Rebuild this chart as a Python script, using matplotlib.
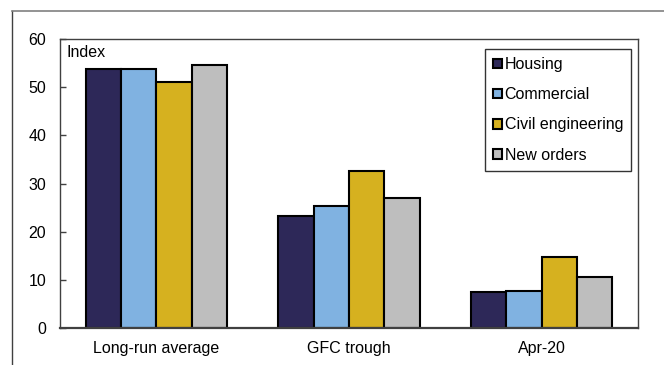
import matplotlib
matplotlib.use("Agg")
import matplotlib.pyplot as plt
import numpy as np
from matplotlib.lines import Line2D

categories = ["Long-run average", "GFC trough", "Apr-20"]
series_names = ["Housing", "Commercial", "Civil engineering", "New orders"]
housing = [53.7, 23.2, 7.4]
commercial = [53.8, 25.3, 7.75]
civil = [51.0, 32.5, 14.7]
new_orders = [54.7, 27.0, 10.5]
yticks = [0, 10, 20, 30, 40, 50, 60]

colors = ["#2D2858", "#80B2E1", "#D6B11F", "#BEBEBE"]

plt.rcParams['font.family'] = ['Liberation Sans', 'DejaVu Sans']
fs = 11.5
fig = plt.figure(figsize=(6.64, 3.65), dpi=100)
ax = fig.add_axes([60/664, 1-328/365, 578/664, 289/365])

x = np.arange(len(categories))
w = 0.183
data = [housing, commercial, civil, new_orders]
for i, (vals, name, c) in enumerate(zip(data, series_names, colors)):
    ax.bar(x + (i - 1.5) * w, vals, width=w, color=c, edgecolor="black",
           linewidth=1.5, label=name)

ax.set_xlim(-0.5, 2.5)
ax.set_ylim(0, 60)
ax.set_yticks(yticks)
ax.set_yticklabels([str(t) for t in yticks], fontsize=fs)
ax.set_xticks(x)
ax.set_xticklabels(categories, fontsize=fs)
ax.tick_params(axis='y', direction='in', length=4, width=1, color='#404040', pad=10)
ax.tick_params(axis='x', length=0, pad=9)
for s in ['left', 'top', 'right']:
    ax.spines[s].set_color('#404040')
    ax.spines[s].set_linewidth(1)
ax.spines['bottom'].set_color('#404040')
ax.spines['bottom'].set_linewidth(1.6)

ax.text(0.012, 0.955, "Index", transform=ax.transAxes, fontsize=fs, va='center', ha='left')

leg = ax.legend(loc='upper right', bbox_to_anchor=(0.988, 0.965), borderaxespad=0,
                fontsize=fs, frameon=True, fancybox=False, edgecolor='black',
                handlelength=0.55, handleheight=0.55, handletextpad=0.15,
                labelspacing=0.95, borderpad=0.5)
leg.get_frame().set_linewidth(1)

# outer frame
fig.add_artist(Line2D([11.5/664, 11.5/664], [0, 1-10.5/365], transform=fig.transFigure,
                      color='#404040', lw=1))
fig.add_artist(Line2D([11.5/664, 1], [1-10.5/365, 1-10.5/365], transform=fig.transFigure,
                      color='#808080', lw=1.2))

fig.savefig("out.png", dpi=100)
